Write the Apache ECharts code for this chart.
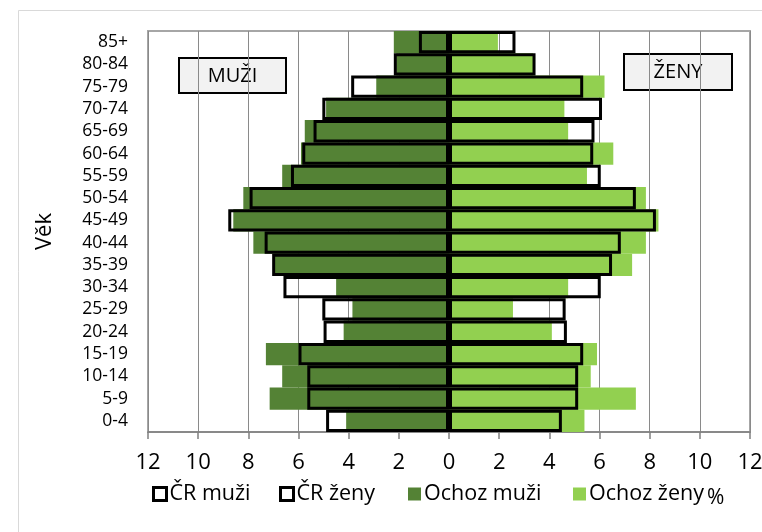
<!DOCTYPE html>
<html>
<head>
<meta charset="utf-8">
<script src="https://cdn.jsdelivr.net/npm/echarts@6/dist/echarts.min.js"></script>
<style>
html,body{margin:0;padding:0;background:#fff;}
#chart{width:762px;height:532px;}
</style>
</head>
<body>
<div id="chart"></div>
<script>
var categories = ['0-4','5-9','10-14','15-19','20-24','25-29','30-34','35-39','40-44','45-49','50-54','55-59','60-64','65-69','70-74','75-79','80-84','85+'];
var crMuzi    = [4.9, 5.65, 5.65, 6.0, 5.0, 5.05, 6.6, 7.05, 7.35, 8.8, 7.95, 6.3, 5.85, 5.4, 5.05, 3.9, 2.2, 1.2];
var crZeny    = [4.5, 5.15, 5.15, 5.35, 4.7, 4.65, 6.05, 6.5, 6.85, 8.25, 7.45, 6.05, 5.75, 5.8, 6.1, 5.35, 3.45, 2.65];
var ochozMuzi = [4.1, 7.15, 6.65, 7.3, 4.2, 3.85, 4.5, 7.0, 7.8, 8.6, 8.2, 6.65, 5.9, 5.75, 4.9, 2.9, 2.1, 2.2];
var ochozZeny = [5.4, 7.45, 5.65, 5.9, 4.1, 2.55, 4.75, 7.3, 7.85, 8.35, 7.85, 5.5, 6.55, 4.75, 4.6, 6.2, 3.35, 1.95];
var xTicks = [-12, 12, 2];

var FONT = '"Open Sans", "Noto Sans", sans-serif';
var chart = echarts.init(document.getElementById('chart'));
function neg(a){ return a.map(function(v){ return -v; }); }

var legendDefs = [
  {name:'ČR muži', left:152, style:{color:'#ffffff', borderColor:'#000', borderWidth:3}},
  {name:'ČR ženy', left:279, style:{color:'#ffffff', borderColor:'#000', borderWidth:3}},
  {name:'Ochoz muži', left:408, style:{color:'#548235', borderWidth:0}},
  {name:'Ochoz ženy', left:573, style:{color:'#92d050', borderWidth:0}}
];

chart.setOption({
  animation:false,
  backgroundColor:'#fff',
  textStyle:{fontFamily:FONT},
  grid:{left:148, right:12, top:31, bottom:100, show:true, borderColor:'#a6a6a6', borderWidth:2, outerBoundsMode:'none', containLabel:false},
  legend: legendDefs.map(function(d){
    return {
      left:d.left, top:483, padding:0, itemWidth:13, itemHeight:13, itemGap:0,
      icon:'rect', selectedMode:false,
      textStyle:{fontFamily:FONT, fontSize:21.5, color:'#000', padding:[0,0,0,-2]},
      data:[{name:d.name, itemStyle:d.style}]
    };
  }),
  xAxis:{
    type:'value', min:xTicks[0], max:xTicks[1], interval:xTicks[2],
    axisLine:{show:true, onZero:false, lineStyle:{color:'#808080', width:1.5}},
    axisTick:{show:true, length:7, lineStyle:{color:'#808080', width:1.5}},
    axisLabel:{formatter:function(v){return Math.abs(v);}, fontSize:22, color:'#000', margin:20, fontFamily:FONT},
    splitLine:{show:true, lineStyle:{color:'#8a8a8a', width:1}}
  },
  yAxis:{
    type:'category', data:categories,
    name:'Věk', nameLocation:'middle', nameGap:92, nameRotate:90,
    nameTextStyle:{fontSize:22, color:'#000', fontFamily:FONT},
    axisLine:{show:false}, axisTick:{show:false},
    axisLabel:{interval:0, hideOverlap:false, fontSize:17.5, color:'#000', margin:20, fontFamily:FONT},
    splitLine:{show:false}
  },
  series:[
    {name:'Ochoz muži', type:'bar', data:neg(ochozMuzi), barWidth:'100%', barGap:'-100%', z:2,
     itemStyle:{color:'#548235'}},
    {name:'Ochoz ženy', type:'bar', data:ochozZeny, barWidth:'100%', barGap:'-100%', z:2,
     itemStyle:{color:'#92d050'}},
    {name:'ČR muži', type:'bar', data:neg(crMuzi), barWidth:'100%', barGap:'-100%', z:3,
     itemStyle:{color:'rgba(0,0,0,0)', borderColor:'#000', borderWidth:3}},
    {name:'ČR ženy', type:'bar', data:crZeny, barWidth:'100%', barGap:'-100%', z:3,
     itemStyle:{color:'rgba(0,0,0,0)', borderColor:'#000', borderWidth:3}}
  ],
  graphic:[
    {type:'rect', left:16, top:8, shape:{width:760, height:540}, style:{fill:'none', stroke:'#d9d9d9', lineWidth:1}, silent:true, z:0},
    {type:'group', left:178, top:57, z:10, children:[
      {type:'rect', shape:{width:107, height:35}, style:{fill:'#f2f2f2', stroke:'#000', lineWidth:2}},
      {type:'text', x:53.5, y:18, style:{text:'MUŽI', fontSize:20, fontFamily:FONT, fill:'#000', align:'center', verticalAlign:'middle'}}
    ]},
    {type:'group', left:623, top:53, z:10, children:[
      {type:'rect', shape:{width:108, height:36}, style:{fill:'#f2f2f2', stroke:'#000', lineWidth:2}},
      {type:'text', x:54, y:18.5, style:{text:'ŽENY', fontSize:20, fontFamily:FONT, fill:'#000', align:'center', verticalAlign:'middle'}}
    ]},
    {type:'text', left:707, top:488, z:10, style:{text:'%', fontSize:21, fontFamily:FONT, fill:'#000'}}
  ]
});
</script>
</body>
</html>
